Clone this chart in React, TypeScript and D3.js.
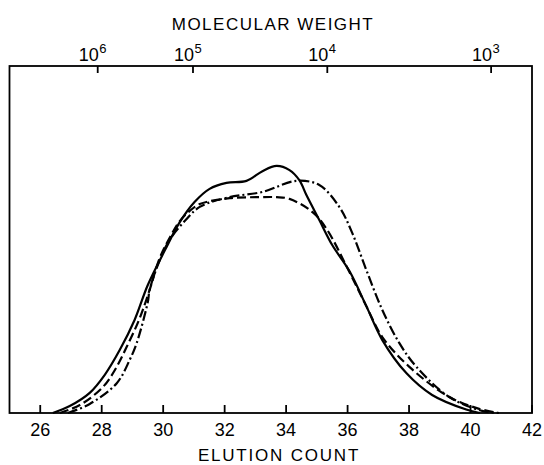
import React from "react";
import * as d3 from "d3";

// Elution count (x) and relative detector response (y, % of frame height)
const solidX = [26.41, 26.96, 27.61, 28.10, 28.59, 29.07, 29.50, 30.05, 30.54, 31.02, 31.51, 32.06, 32.71, 33.23, 33.69, 34.11, 34.43, 34.66, 35.08, 35.50, 36.06, 36.61, 37.13, 37.91, 38.75, 39.86, 40.30];
const solidY = [0, 2.0, 5.8, 11.0, 18.2, 26.8, 36.9, 46.8, 55.0, 60.8, 64.6, 66.3, 66.9, 69.7, 71.2, 70.0, 67.1, 62.8, 55.6, 48.4, 40.9, 30.8, 21.0, 11.5, 5.2, 1.0, 0];

const dashedX = [26.64, 27.29, 28.04, 28.43, 28.81, 29.24, 29.56, 29.89, 30.28, 30.54, 30.86, 31.19, 32.16, 33.13, 33.69, 34.11, 34.86, 35.32, 36.06, 36.61, 37.13, 38.01, 39.31, 40.28, 40.92];
const dashedY = [0, 2.3, 7.5, 12.4, 19.0, 27.4, 35.5, 44.7, 51.6, 55.3, 58.2, 60.2, 61.9, 62.2, 62.2, 61.7, 57.9, 53.0, 40.6, 30.8, 21.9, 13.3, 4.6, 1.2, 0];

const dashDotX = [26.90, 27.61, 28.49, 28.91, 29.14, 29.50, 29.56, 29.89, 30.21, 30.70, 31.19, 32.16, 33.23, 34.33, 35.08, 35.73, 36.15, 36.61, 37.13, 37.68, 38.24, 39.31, 40.38, 40.92];
const dashDotY = [0, 2.6, 8.6, 15.3, 20.2, 32.0, 35.5, 44.1, 49.9, 55.3, 59.4, 62.2, 63.7, 66.9, 65.7, 59.4, 51.9, 41.2, 29.7, 20.2, 13.3, 4.6, 0.6, 0];

const bottomTicks = [26, 28, 30, 32, 34, 36, 38, 40, 42];
// molecular weight calibration: positions of 10^n on the elution count axis
const mwExponents = ["6", "5", "4", "3"];
const mwPositions = [27.87, 30.97, 35.34, 40.67];

const xTitle = "ELUTION COUNT";
const topTitle = "MOLECULAR WEIGHT";

const W = 544;
const H = 465;
const font = "'Liberation Sans', Arial, sans-serif";

export default function App() {
  const x = d3.scaleLinear().domain([25, 42]).range([9.5, 532]);
  const y = d3.scaleLinear().domain([0, 100]).range([413, 66]);

  const line = d3
    .line<[number, number]>()
    .x((d) => x(d[0]))
    .y((d) => y(d[1]))
    .curve(d3.curveCatmullRom.alpha(0.5));

  const zip = (a: number[], b: number[]) => a.map((v, i) => [v, b[i]] as [number, number]);

  const series = [
    { pts: zip(solidX, solidY), dash: "none" },
    { pts: zip(dashedX, dashedY), dash: "9 4" },
    { pts: zip(dashDotX, dashDotY), dash: "10 3 2 3" },
  ];

  const [x0, x1] = x.range();
  const [yb, yt] = y.range();

  return (
    <svg
      width={W}
      height={H}
      style={{ position: "absolute", left: 0, top: 0, background: "#fff" }}
      fontFamily={font}
    >
      <rect x={0} y={0} width={W} height={H} fill="#fff" />
      {/* frame */}
      <rect x={x0} y={yt} width={x1 - x0} height={yb - yt} fill="none" stroke="#000" strokeWidth={1.8} />

      {/* bottom ticks */}
      {bottomTicks.map((t) => (
        <g key={"b" + t}>
          <line x1={x(t)} x2={x(t)} y1={yb} y2={yb - 8} stroke="#000" strokeWidth={1.8} />
          <text x={x(t)} y={436} textAnchor="middle" fontSize={18} fill="#000">
            {t}
          </text>
        </g>
      ))}

      {/* top ticks */}
      {mwPositions.map((p, i) => (
        <g key={"t" + i}>
          <line x1={x(p)} x2={x(p)} y1={yt} y2={yt + 7} stroke="#000" strokeWidth={1.8} />
          <text x={x(p) + 1} y={61} textAnchor="end" fontSize={18} fill="#000">
            10
          </text>
          <text x={x(p) + 1.5} y={53} textAnchor="start" fontSize={13} fill="#000">
            {mwExponents[i]}
          </text>
        </g>
      ))}

      {/* curves */}
      {series.map((s, i) => (
        <path
          key={i}
          d={line(s.pts) || ""}
          fill="none"
          stroke="#000"
          strokeWidth={2.2}
          strokeDasharray={s.dash}
          strokeLinejoin="round"
        />
      ))}

      {/* titles */}
      <text x={273} y={30} textAnchor="middle" fontSize={17} letterSpacing={1.5} fill="#000">
        {topTitle}
      </text>
      <text x={279} y={461} textAnchor="middle" fontSize={17} letterSpacing={1.8} fill="#000">
        {xTitle}
      </text>
    </svg>
  );
}
